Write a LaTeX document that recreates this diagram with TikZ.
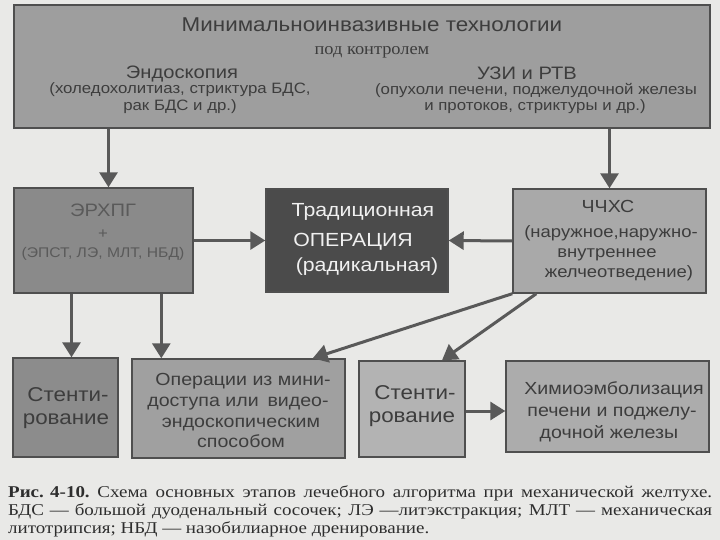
\documentclass[tikz,border=0pt]{standalone}
\usepackage{fontspec}
\setmainfont{Liberation Serif}
\newfontfamily\boxfont[FakeStretch=1.12]{Liberation Sans}
\newfontfamily\serifwide[FakeStretch=1.08]{Liberation Serif}
\newfontfamily\capfont[FakeStretch=1.15]{Liberation Serif}
\usetikzlibrary{arrows.meta}
\definecolor{bg}{HTML}{E9E9E7}
\definecolor{topfill}{HTML}{9E9E9E}
\definecolor{ercpfill}{HTML}{8A8A8A}
\definecolor{tradfill}{HTML}{4B4B4B}
\definecolor{pchsfill}{HTML}{A9A9A9}
\definecolor{stafill}{HTML}{8C8C8C}
\definecolor{opsfill}{HTML}{A0A0A0}
\definecolor{stbfill}{HTML}{B3B3B3}
\definecolor{chemfill}{HTML}{ACACAC}
\definecolor{edge}{HTML}{4F4F4F}
\definecolor{arrowc}{HTML}{595959}
\definecolor{txt}{HTML}{3D3D3D}
\definecolor{ercptxt}{HTML}{5A5A5A}
\definecolor{captxt}{HTML}{2E2E2E}
\tikzset{
  box/.style={draw=edge, line width=1.4pt, rectangle, inner sep=0pt},
  arr/.style={draw=arrowc, line width=3pt, -{Triangle[width=18pt,length=15pt]}},
  lbl/.style={inner sep=0pt, anchor=base, text=txt, font=\boxfont\fontsize{#1}{#1}\selectfont},
  lbl/.default=17,
  captionline/.style={inner sep=0pt, anchor=base west, text=captxt, font=\capfont\fontsize{16.5}{16.5}\selectfont}
}
\newcommand{\mkbox}[6]{% name, x1,y1,x2,y2, fill
  \node[box, fill=#6, minimum width=#4-#2, minimum height=#5-#3] (#1) at ({(#2+#4)/2},{(#3+#5)/2}) {};}
\begin{document}
\begin{tikzpicture}[x=1pt,y=-1pt]
\fill[bg] (0,0) rectangle (720,540);
\useasboundingbox (0,0) rectangle (720,540);

% boxes
\mkbox{top}{14}{5}{710}{128}{topfill}
\mkbox{ercp}{14}{188}{193}{293}{ercpfill}
\mkbox{trad}{266}{189}{448}{292}{tradfill}
\mkbox{pchs}{513}{189}{706}{293}{pchsfill}
\mkbox{sta}{13}{358}{118}{457}{stafill}
\mkbox{ops}{132}{359}{345}{458}{opsfill}
\mkbox{stb}{359}{361}{465}{457}{stbfill}
\mkbox{chem}{506}{361}{709}{452}{chemfill}

% top box text
\node[lbl=20] (t1) at (372,32) {Минимальноинвазивные технологии};
\node[inner sep=0pt, anchor=base, text=txt, font=\serifwide\fontsize{17}{17}\selectfont] (t2) at (372,55) {под контролем};
\node[lbl=18] (t3) at (182,79) {Эндоскопия};
\node[lbl=15] (t4) at (180,94) {(холедохолитиаз, стриктура БДС,};
\node[lbl=15] (t5) at (180,111) {рак БДС и др.)};
\node[lbl=18] (t6) at (527,80) {УЗИ и РТВ};
\node[lbl=15] (t7) at (536,95) {(опухоли печени, поджелудочной железы};
\node[lbl=15] (t8) at (535,111) {и протоков, стриктуры и др.)};

% ERCP
\node[lbl=18, text=ercptxt] (e1) at (103,216) {ЭРХПГ};
\node[lbl=15, text=ercptxt] (e2) at (103,238) {+};
\node[lbl=14, text=ercptxt] (e3) at (103,258) {(ЭПСТ, ЛЭ, МЛТ, НБД)};

% traditional
\node[lbl=19, text=white!94!black] (r1) at (363,217) {Традиционная};
\node[lbl=19, text=white!94!black] (r2) at (353,246) {ОПЕРАЦИЯ};
\node[lbl=19, text=white!94!black] (r3) at (367,271) {(радикальная)};

% PCHS
\node[lbl=17.5] (p1) at (608,213) {ЧЧХС};
\node[lbl=16.5] (p2) at (611,237) {(наружное,наружно-};
\node[lbl=16.5] (p3) at (607,257) {внутреннее};
\node[lbl=16.5] (p4) at (619,277) {желчеотведение)};

% bottom boxes
\node[lbl=20] (s1) at (68,401) {Стенти-};
\node[lbl=20] (s2) at (66,424) {рование};
\node[lbl=17.5] (o1) at (243,385) {Операции из мини-};
\node[lbl=17.5] (o2) at (238,406) {доступа или\enspace видео-};
\node[lbl=17.5] (o3) at (241,427) {эндоскопическим};
\node[lbl=17.5] (o4) at (241,447) {способом};
\node[lbl=20] (b1) at (415,399) {Стенти-};
\node[lbl=20] (b2) at (412,422) {рование};
\node[lbl=17.5] (c1) at (614,394) {Химиоэмболизация};
\node[lbl=17.5] (c2) at (612,416) {печени и поджелу-};
\node[lbl=17.5] (c3) at (609,438) {дочной железы};

% arrows
\draw[arr] ([xshift=5pt]ercp.north |- top.south) -- ([xshift=5pt]ercp.north);
\draw[arr] (pchs.north |- top.south) -- (pchs.north);
\draw[arr] (ercp.east) -- (trad.west);
\draw[arr] (pchs.west) -- (trad.east);
\draw[arr] ([xshift=6pt]sta.north |- ercp.south) -- ([xshift=6pt]sta.north);
\draw[arr] ([xshift=30pt]ops.north west |- ercp.south) -- ([xshift=30pt]ops.north west);
\draw[arr] (pchs.south west) -- ([xshift=-33pt]ops.north east);
\draw[arr] ([xshift=24pt]pchs.south west) -- ([xshift=30pt]stb.north);
\draw[arr] ([yshift=-2pt]stb.east) -- ([yshift=-2pt]stb.east -| chem.west);

% caption
\node[captionline] (cap1) at (8,497) {\makebox[704pt][s]{\mbox{\textbf{Рис. 4-10.}} Схема основных этапов лечебного алгоритма при механической желтухе.}};
\node[captionline] (cap2) at (8,515) {\makebox[704pt][s]{БДС — большой дуоденальный сосочек; ЛЭ —литэкстракция; МЛТ — механическая}};
\node[captionline] (cap3) at (8,533) {литотрипсия; НБД — назобилиарное дренирование.};
\end{tikzpicture}
\end{document}
